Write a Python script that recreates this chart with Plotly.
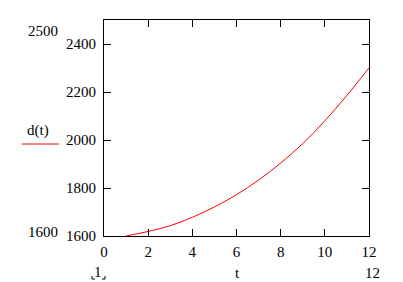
import plotly.graph_objects as go

# Data
t_vals = [1, 2, 3, 4, 5, 6, 7, 8, 9, 10, 11, 12]
d_vals = [1600, 1619, 1643, 1678, 1721, 1772, 1833, 1904, 1985, 2080, 2186, 2300]
x_ticks = [0, 2, 4, 6, 8, 10, 12]
y_ticks = [1600, 1800, 2000, 2200, 2400]

W, H = 403, 282
L, R, T, B = 104, 369, 20, 236
FONT = "'Liberation Serif', 'Times New Roman', 'DejaVu Serif', serif"

def px(x):
    return (x - L) / (R - L)

def py(y):
    return (B - y) / (B - T)

fig = go.Figure()
fig.add_trace(go.Scatter(x=t_vals, y=d_vals, mode="lines", line=dict(color="#ff0000", width=1),
                         line_shape="spline", showlegend=False, hoverinfo="skip"))

fig.update_layout(
    width=W, height=H,
    margin=dict(l=L, r=W - R, t=T, b=H - B, pad=0),
    paper_bgcolor="white", plot_bgcolor="white",
    font=dict(family=FONT, size=15, color="black"),
    showlegend=False,
)
fig.update_xaxes(range=[0, 12], tickvals=x_ticks, ticktext=[str(v) for v in x_ticks],
                 showline=True, linecolor="black", linewidth=1, mirror="ticks",
                 ticks="inside", ticklen=7, tickcolor="black", tickwidth=1,
                 showgrid=False, zeroline=False, ticklabelstandoff=2,
                 tickfont=dict(family=FONT, size=15, color="black"))
fig.update_yaxes(range=[1600, 2500], tickvals=y_ticks, ticktext=[str(v) for v in y_ticks],
                 showline=True, linecolor="black", linewidth=1, mirror="ticks",
                 ticks="inside", ticklen=7, tickcolor="black", tickwidth=1,
                 showgrid=False, zeroline=False, ticklabelstandoff=4,
                 tickfont=dict(family=FONT, size=15, color="black"))

ann = [
    ("2500", 60, 31, "right"),
    ("1600", 60, 232, "right"),
    ("d(t)", 38, 130, "center"),
    ("1", 98, 272, "center"),
    ("t", 237, 273, "center"),
    ("12", 372, 273, "center"),
]
for text, x, y, xa in ann:
    fig.add_annotation(text=text, x=px(x), y=py(y), xref="paper", yref="paper",
                       xanchor=xa, yanchor="middle", showarrow=False,
                       font=dict(family=FONT, size=15, color="black"))

# legend line
fig.add_shape(type="line", x0=px(22), x1=px(59), y0=py(144), y1=py(144),
              xref="paper", yref="paper", line=dict(color="#ff0000", width=1))
# corner brackets around "1"
for xs in [(92, 92, 95), (105, 105, 102)]:
    fig.add_shape(type="path",
                  path=f"M {px(xs[0])} {py(276)} L {px(xs[1])} {py(279)} L {px(xs[2])} {py(279)}",
                  xref="paper", yref="paper", line=dict(color="black", width=1))

fig.write_html("out.html")
